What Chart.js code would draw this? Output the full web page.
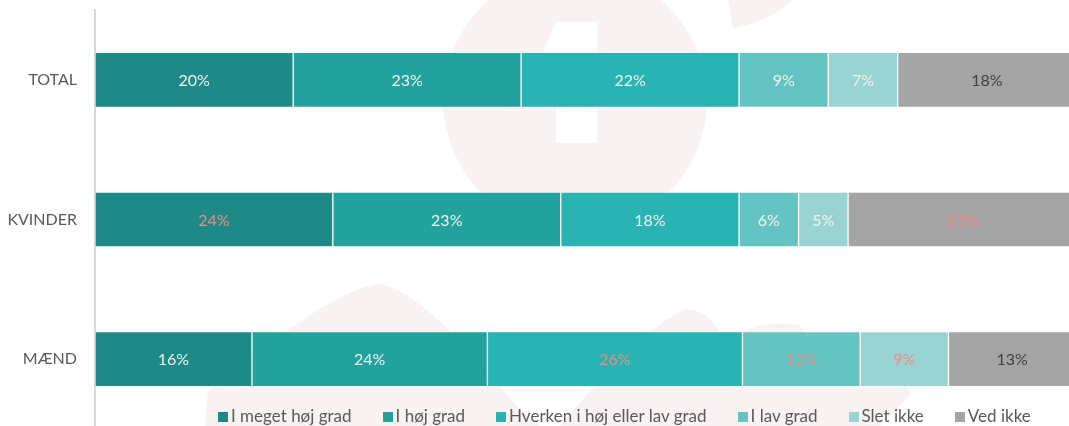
<!DOCTYPE html>
<html>
<head>
<meta charset="utf-8">
<script src="https://cdn.jsdelivr.net/npm/chart.js@4/dist/chart.umd.min.js"></script>
<style>
    body { margin: 0; background: #fff; overflow: hidden; }
    #wrap { position: relative; width: 1069px; height: 426px; overflow: hidden; }
    #legend {
        position: absolute; left: 218px; top: 406px;
        display: flex; gap: 31px;
        font-family: Lato, sans-serif; font-size: 17px; color: #595959;
        white-space: nowrap; line-height: 20px;
    }
    #legend span.box { display: inline-block; width: 10px; height: 10px; margin-right: 3px; }
</style>
</head>
<body>
<div id="wrap">
    <!-- a bit wider/taller than the window: the original image crops the bar ends -->
    <canvas id="chart" width="1080" height="429"></canvas>
    <div id="legend"></div>
</div>
<script>
const categories = ['TOTAL', 'KVINDER', 'MÆND'];
const seriesNames = ['I meget høj grad', 'I høj grad', 'Hverken i høj eller lav grad', 'I lav grad', 'Slet ikke', 'Ved ikke'];

// percentages per series (TOTAL, KVINDER, MÆND)
const meget = [20, 24, 16];
const hoj = [23, 23, 24];
const hverken = [22, 18, 26];
const lav = [9, 6, 12];
const slet = [7, 5, 9];
const vedIkke = [18, 23, 13];

const seriesColors = ['#1e8a87', '#23a19d', '#29b3b3', '#63c4c2', '#99d4d2', '#a5a5a5'];

// label colours, pink = highlighted values
const W = '#f2f2f2', P = '#f08b86', D = '#404040';
const labelColors = [
    [W, P, W],
    [W, W, W],
    [W, W, P],
    [W, W, P],
    [W, W, P],
    [D, P, D]
];

const allSeries = [meget, hoj, hverken, lav, slet, vedIkke];
const rowSums = categories.map((c, i) => allSeries.reduce((s, arr) => s + arr[i], 0));

const datasets = allSeries.map((arr, k) => ({
    label: seriesNames[k],
    data: arr.map((v, i) => v / rowSums[i] * 100),   // scale each row to 100%
    raw: arr,
    backgroundColor: seriesColors[k],
    borderColor: 'rgba(255,255,255,0.45)',
    borderWidth: 1,
    borderSkipped: false,
    barThickness: 55
}));

// faint logo behind the bars
const watermark = {
    id: 'watermark',
    beforeDatasetsDraw(chart) {
        const c = chart.ctx;
        c.save();
        c.fillStyle = '#f9f2f2';
        c.beginPath();
        c.arc(575, 100, 132, 0, Math.PI * 2);
        c.fill();
        c.fillStyle = '#fff';
        c.beginPath();
        c.moveTo(556, 22); c.lineTo(597, 22); c.lineTo(597, 143); c.lineTo(556, 143);
        c.lineTo(556, 60); c.lineTo(535, 70); c.closePath();
        c.fill();
        c.fillStyle = '#f9f2f2';
        c.beginPath();
        c.moveTo(728, 0); c.lineTo(792, 0); c.quadraticCurveTo(770, 22, 733, 28); c.closePath();
        c.fill();
        c.beginPath();
        c.moveTo(205, 426); c.lineTo(208, 392); c.quadraticCurveTo(330, 290, 378, 284);
        c.quadraticCurveTo(420, 286, 520, 410); c.lineTo(540, 426); c.closePath();
        c.fill();
        c.beginPath();
        c.moveTo(560, 426); c.quadraticCurveTo(640, 330, 685, 309);
        c.quadraticCurveTo(715, 310, 724, 346); c.quadraticCurveTo(750, 318, 800, 325);
        c.lineTo(815, 352); c.quadraticCurveTo(880, 330, 911, 394);
        c.lineTo(880, 426); c.closePath();
        c.fill();
        c.restore();
    }
};

// percentage labels in the middle of each segment
const barLabels = {
    id: 'barLabels',
    afterDatasetsDraw(chart) {
        const c = chart.ctx;
        c.save();
        c.font = '16px Lato, sans-serif';
        c.textAlign = 'center';
        c.textBaseline = 'middle';
        chart.data.datasets.forEach((ds, k) => {
            chart.getDatasetMeta(k).data.forEach((bar, i) => {
                c.fillStyle = labelColors[k][i];
                c.fillText(ds.raw[i] + '%', (bar.x + bar.base) / 2, bar.y + 1);
            });
        });
        c.restore();
    }
};

new Chart(document.getElementById('chart'), {
    type: 'bar',
    data: { labels: categories, datasets: datasets },
    options: {
        indexAxis: 'y',
        responsive: false,
        animation: false,
        layout: { padding: { top: 10, right: 4, bottom: 0, left: 0 } },
        plugins: {
            legend: { display: false },
            tooltip: { enabled: false }
        },
        scales: {
            x: { stacked: true, min: 0, max: 100, display: false },
            y: {
                stacked: true,
                grid: { display: false, drawTicks: false },
                border: { display: true, color: '#d9d9d9', width: 2 },
                ticks: { color: '#595959', padding: 18, font: { family: 'Lato', size: 16 } },
                afterFit(scale) {
                    scale.width = 95;
                    scale.paddingTop = 0;
                    scale.paddingBottom = 0;
                }
            }
        }
    },
    plugins: [watermark, barLabels]
});

// legend under the bars
const legend = document.getElementById('legend');
seriesNames.forEach((name, k) => {
    const item = document.createElement('div');
    item.innerHTML = '<span class="box" style="background:' + seriesColors[k] + '"></span>' + name;
    legend.appendChild(item);
});
</script>
</body>
</html>
